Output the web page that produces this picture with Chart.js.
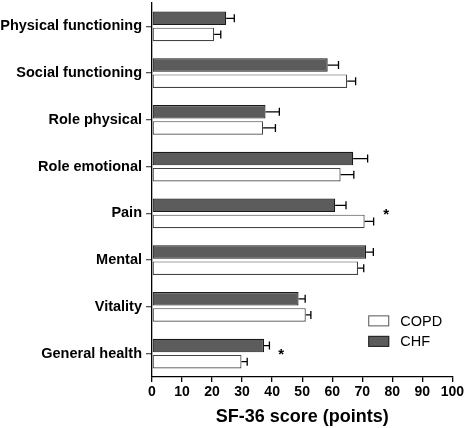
<!DOCTYPE html>
<html>
<head>
<meta charset="utf-8">
<script src="https://cdn.jsdelivr.net/npm/chart.js@4.4.1/dist/chart.umd.min.js"></script>
<style>
  html, body { margin: 0; padding: 0; background: #ffffff; }
  #wrap { width: 466px; height: 428px; }
</style>
</head>
<body>
<div id="wrap"><canvas id="sfChart" width="466" height="428"></canvas></div>
<script>
// SF-36 domains, top to bottom
const categories = [
    "Physical functioning",
    "Social functioning",
    "Role physical",
    "Role emotional",
    "Pain",
    "Mental",
    "Vitality",
    "General health"
];

const chfValues  = [24.7, 58.5, 37.8, 67.0, 61.0, 71.3, 48.8, 37.3];
const chfErrors  = [2.7,  3.6,  4.6,  4.8,  3.6,  2.4,  2.2,  1.8];
const copdValues = [20.7, 65.0, 37.0, 62.8, 70.8, 68.6, 51.2, 29.8];
const copdErrors = [2.2,  2.8,  4.1,  4.4,  3.0,  1.9,  1.7,  1.9];

// significance marks (x position in points, null = none)
const asterisks = [null, null, null, null, 78, null, null, 43];

const xTicks = [0, 10, 20, 30, 40, 50, 60, 70, 80, 90, 100];

const FONT = "'Liberation Sans', Arial, Helvetica, sans-serif";

// ERROR BARS (one-sided, positive)
const errorBarPlugin = {
    id: "errorBars",
    afterDatasetsDraw(chart) {
        const ctx = chart.ctx;
        const xScale = chart.scales.x;
        chart.data.datasets.forEach((ds, di) => {
            const meta = chart.getDatasetMeta(di);
            meta.data.forEach((bar, i) => {
                const x0 = xScale.getPixelForValue(ds.data[i]);
                const x1 = xScale.getPixelForValue(ds.data[i] + ds.errors[i]);
                const y = bar.y;
                ctx.save();
                ctx.strokeStyle = "#000";
                ctx.lineWidth = 1.3;
                ctx.beginPath();
                ctx.moveTo(x0, y);
                ctx.lineTo(x1, y);
                ctx.moveTo(x1, y - 4);
                ctx.lineTo(x1, y + 4);
                ctx.stroke();
                ctx.restore();
            });
        });
    }
};

// ASTERISKS + LEGEND
const annotationPlugin = {
    id: "annotations",
    afterDraw(chart) {
        const ctx = chart.ctx;
        const xScale = chart.scales.x;
        const yScale = chart.scales.y;
        ctx.save();
        ctx.fillStyle = "#000";
        ctx.font = "bold 15px " + FONT;
        ctx.textAlign = "center";
        ctx.textBaseline = "middle";
        asterisks.forEach((v, i) => {
            if (v === null) return;
            ctx.fillText("*", xScale.getPixelForValue(v), yScale.getPixelForValue(i) + 1);
        });

        // legend box
        const items = [
            { label: "COPD", fill: "#ffffff", stroke: "#555555" },
            { label: "CHF", fill: "#5c5c5c", stroke: "#222222" }
        ];
        const lx = xScale.getPixelForValue(72);
        let ly = yScale.getPixelForValue(6) + 14;
        ctx.font = "14.5px " + FONT;
        ctx.textAlign = "left";
        items.forEach(it => {
            ctx.fillStyle = it.fill;
            ctx.strokeStyle = it.stroke;
            ctx.lineWidth = 1;
            ctx.fillRect(lx, ly - 5.5, 21, 11);
            ctx.strokeRect(lx + 0.5, ly - 5, 20, 10);
            ctx.fillStyle = "#000";
            ctx.fillText(it.label, lx + 32, ly + 1);
            ly += 20.5;
        });
        ctx.restore();
    }
};

new Chart(document.getElementById("sfChart"), {
    type: "bar",
    data: {
        labels: categories,
        datasets: [
            {
                label: "CHF",
                data: chfValues,
                errors: chfErrors,
                backgroundColor: "#5c5c5c",
                borderColor: "#1a1a1a",
                borderWidth: 1.2,
                borderSkipped: false
            },
            {
                label: "COPD",
                data: copdValues,
                errors: copdErrors,
                backgroundColor: "#ffffff",
                borderColor: "#444444",
                borderWidth: 1.2,
                borderSkipped: false
            }
        ]
    },
    options: {
        indexAxis: "y",
        responsive: false,
        animation: false,
        barPercentage: 0.84,
        categoryPercentage: 0.69,
        layout: {
            padding: { top: 3, right: 0, left: 0, bottom: 0 }
        },
        plugins: {
            legend: { display: false },
            tooltip: { enabled: false }
        },
        scales: {
            x: {
                min: 0,
                max: 100,
                afterBuildTicks: scale => {
                    scale.ticks = xTicks.map(v => ({ value: v }));
                },
                afterFit: scale => { scale.height = 51; },
                ticks: {
                    color: "#000",
                    padding: 2,
                    maxRotation: 0,
                    font: { family: FONT, size: 14, weight: "bold" }
                },
                grid: {
                    drawOnChartArea: false,
                    drawTicks: true,
                    tickLength: 5,
                    color: "#000",
                    lineWidth: 1.3
                },
                border: { display: true, color: "#000", width: 1.3 },
                title: {
                    display: true,
                    text: "SF-36 score (points)",
                    color: "#000",
                    padding: { top: 4, bottom: 0 },
                    font: { family: FONT, size: 18, weight: "bold" }
                }
            },
            y: {
                afterFit: scale => {
                    scale.width = 152;
                    scale.paddingTop = 0;
                    scale.paddingBottom = 0;
                },
                ticks: {
                    color: "#000",
                    padding: 4,
                    font: { family: FONT, size: 14.5, weight: "bold" }
                },
                grid: {
                    offset: false,
                    drawOnChartArea: false,
                    drawTicks: true,
                    tickLength: 6,
                    color: "#555",
                    lineWidth: 1.3
                },
                border: { display: true, color: "#000", width: 1.3 }
            }
        }
    },
    plugins: [errorBarPlugin, annotationPlugin]
});
</script>
</body>
</html>
